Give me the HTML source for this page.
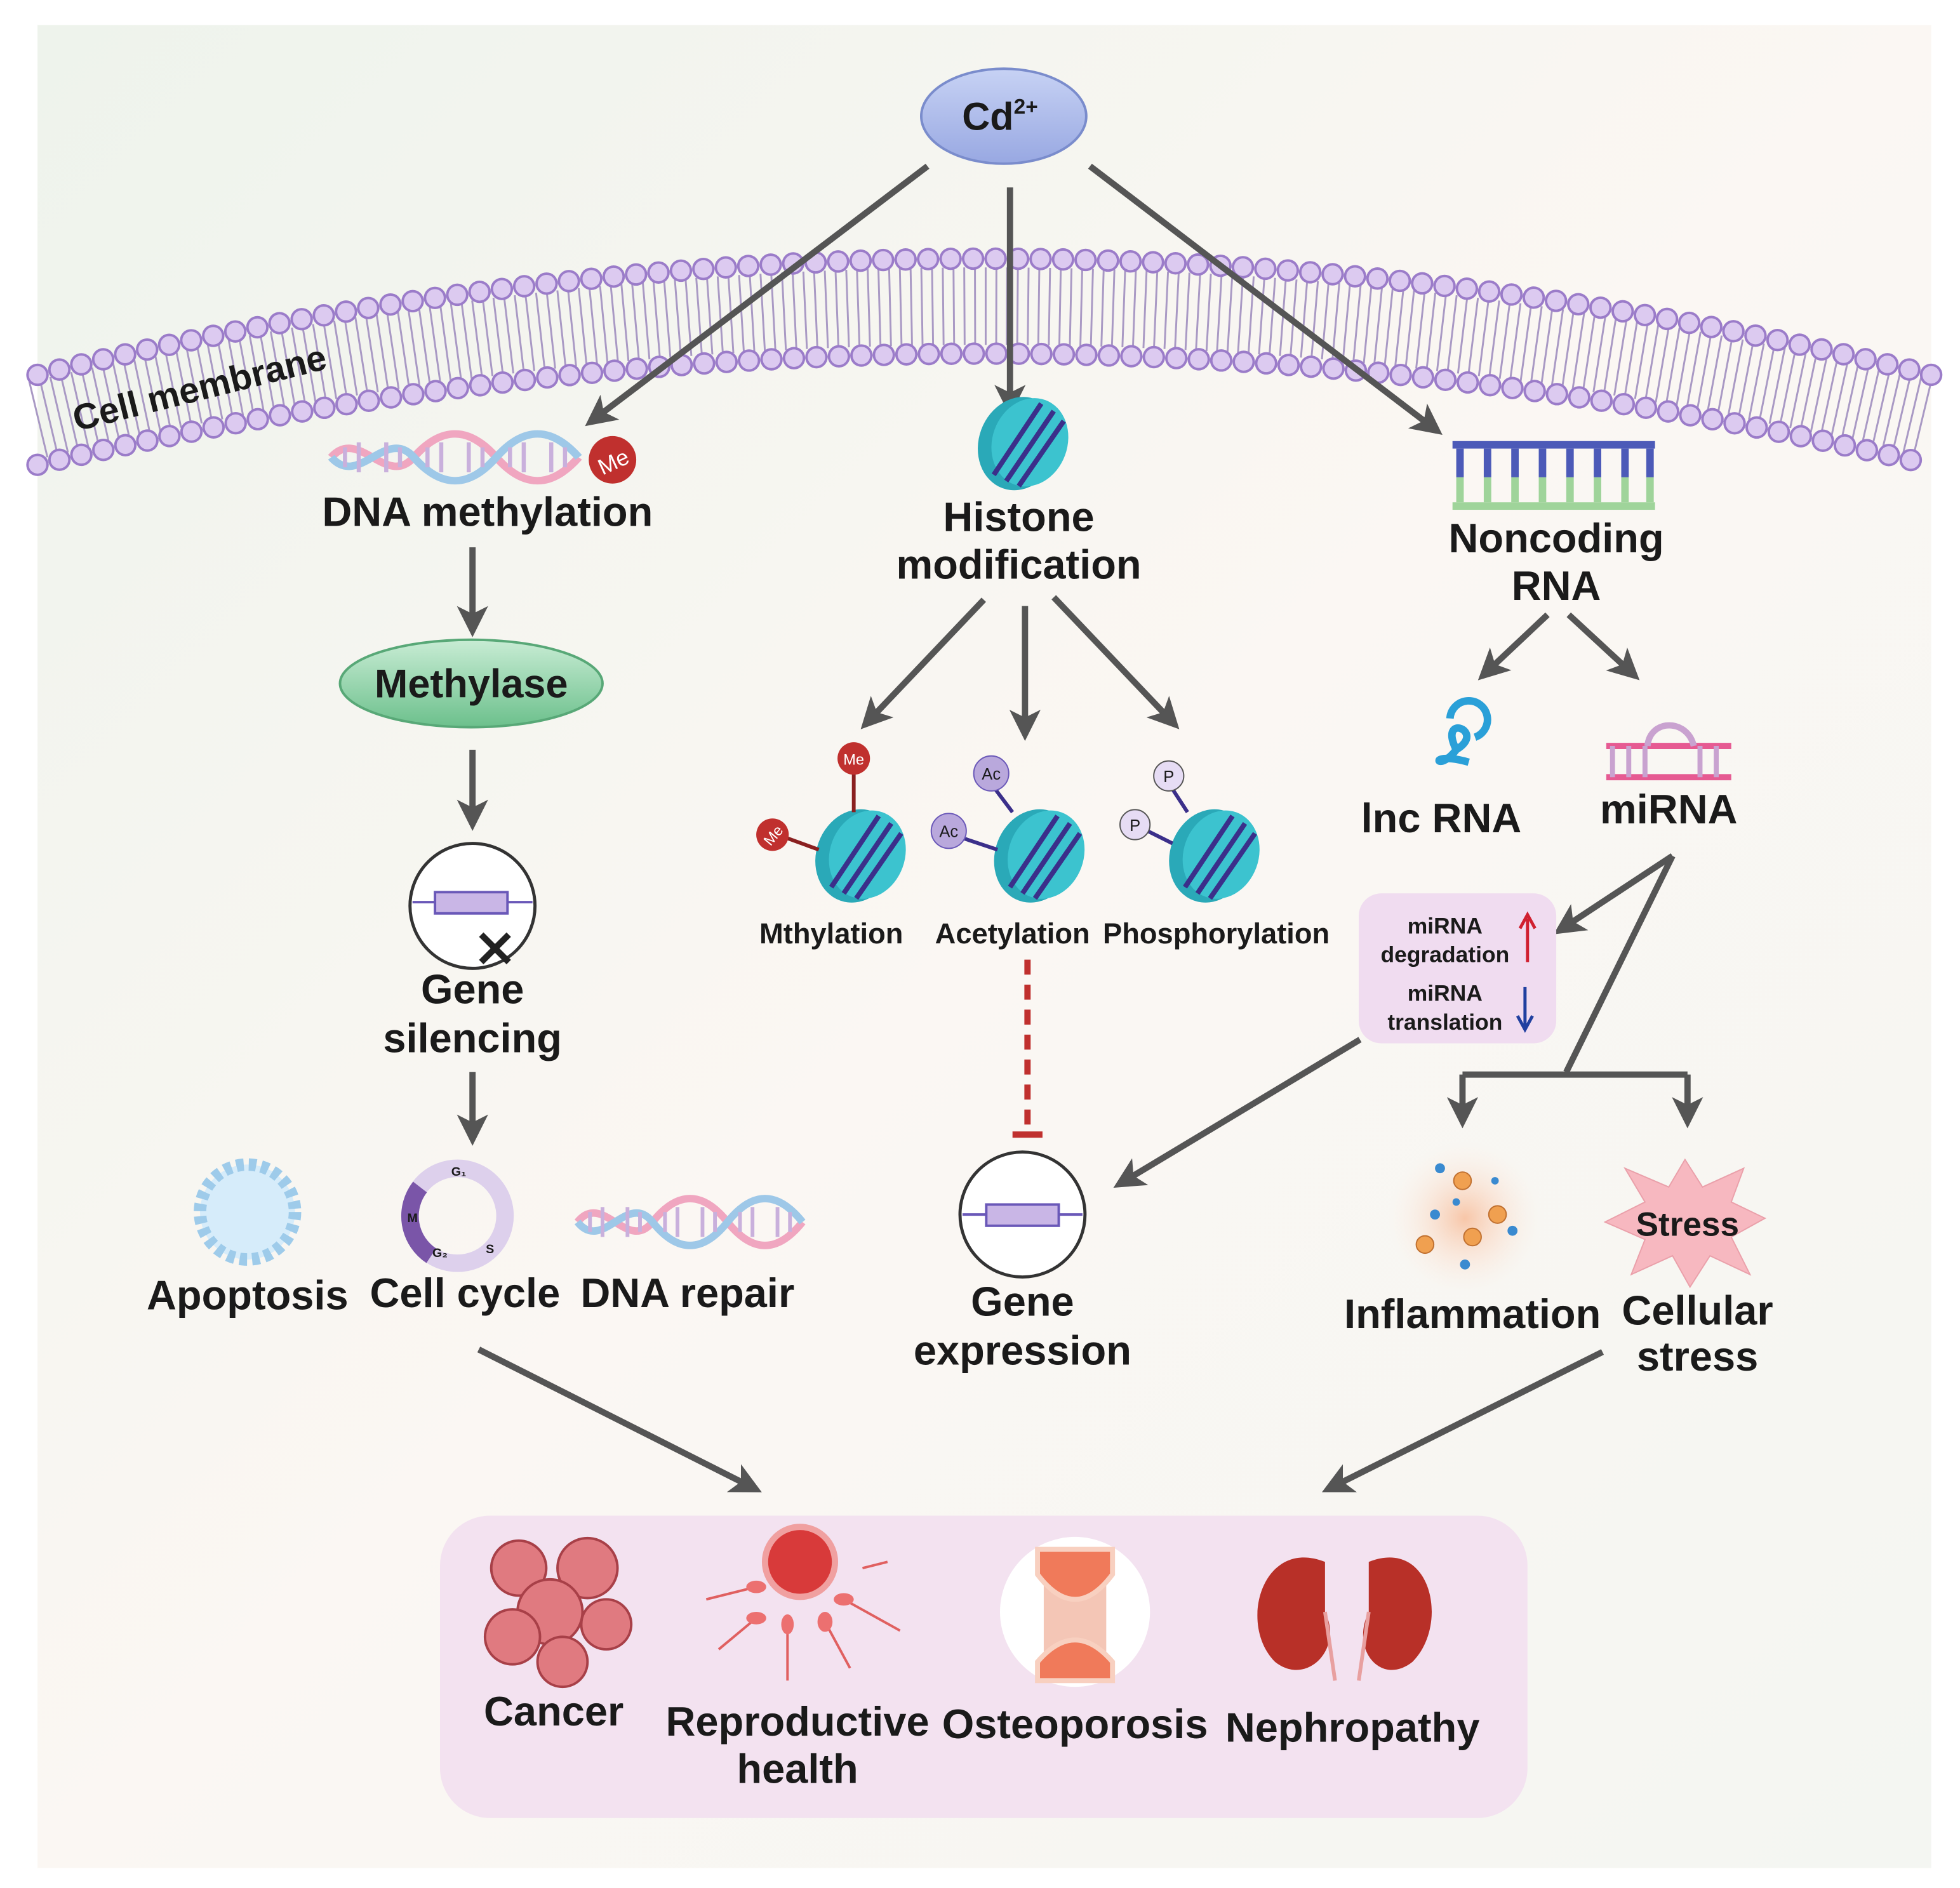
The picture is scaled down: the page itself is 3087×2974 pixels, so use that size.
<!DOCTYPE html>
<html><head><meta charset="utf-8"><style>
html,body{margin:0;padding:0;background:#fff}
svg{display:block}
text{font-family:"Liberation Sans",sans-serif;font-weight:bold;fill:#1a1a1a;text-anchor:middle}
</style></head><body>
<svg width="3087" height="2974" viewBox="0 0 1568 1511" preserveAspectRatio="none" xmlns="http://www.w3.org/2000/svg">
<defs>
<linearGradient id="bg" x1="0" y1="0" x2="1" y2="1">
<stop offset="0" stop-color="#eef3ec"/><stop offset="0.5" stop-color="#fbf7f3"/><stop offset="1" stop-color="#f4f6f2"/></linearGradient>
<marker id="ah" viewBox="0 0 10 10" refX="8" refY="5" markerWidth="5" markerHeight="5" orient="auto"><path d="M0,0 L10,5 L0,10 L2.5,5 z" fill="#555"/></marker>
<linearGradient id="gm" x1="0" y1="0" x2="0" y2="1"><stop offset="0" stop-color="#c8ecd4"/><stop offset="1" stop-color="#6cc08c"/></linearGradient>
<linearGradient id="gc" x1="0" y1="0" x2="0" y2="1"><stop offset="0" stop-color="#c7d2f4"/><stop offset="1" stop-color="#98a8e2"/></linearGradient>
<radialGradient id="gi"><stop offset="0" stop-color="#f8c6a8"/><stop offset="1" stop-color="#fbeee6" stop-opacity="0"/></radialGradient>
<g id="nuc"><ellipse cx="0" cy="0" rx="32" ry="38" fill="#2aa9b8" transform="rotate(20)"/><ellipse cx="8" cy="-4" rx="30" ry="36" fill="#3cc3cf" transform="rotate(20)"/><path d="M-20,25 L18,-32 M-10,30 L28,-26 M0,34 L36,-18" stroke="#3b2f8a" stroke-width="4" fill="none"/></g>
<g id="helix"><path d="M0,0 C20,-25 40,25 60,0 S100,-25 120,0 S160,25 180,0" stroke="#f0a6c0" stroke-width="6" fill="none"/><path d="M0,0 C20,25 40,-25 60,0 S100,25 120,0 S160,-25 180,0" stroke="#9ec8e8" stroke-width="6" fill="none"/><path d="M10,-8V8M20,-12V12M40,-12V12M50,-8V8M70,-8V8M80,-12V12M100,-12V12M110,-8V8M130,-8V8M140,-12V12M160,-12V12M170,-8V8" stroke="#c9b0dc" stroke-width="3"/></g>
</defs>
<rect width="1568" height="1511" fill="#fff"/>
<rect x="30" y="20" width="1515" height="1475" fill="url(#bg)"/>
<!-- membrane -->
<path d="M30,336 Q790,154 1545,336" stroke="#a999c4" stroke-width="62" stroke-dasharray="1.5 7" fill="none"/>
<path d="M30,300 Q790,114 1545,300" stroke="#9b7cc9" stroke-width="18" stroke-dasharray="0 18" stroke-linecap="round" fill="none"/>
<path d="M30,300 Q790,114 1545,300" stroke="#dccaf0" stroke-width="14" stroke-dasharray="0 18" stroke-linecap="round" fill="none"/>
<path d="M30,372 Q790,194 1545,372" stroke="#9b7cc9" stroke-width="18" stroke-dasharray="0 18" stroke-linecap="round" fill="none"/>
<path d="M30,372 Q790,194 1545,372" stroke="#dccaf0" stroke-width="14" stroke-dasharray="0 18" stroke-linecap="round" fill="none"/>
<text x="162" y="320" font-size="29" transform="rotate(-14 162 320)">Cell membrane</text>
<!-- Cd -->
<ellipse cx="803" cy="93" rx="66" ry="38" fill="url(#gc)" stroke="#7a8ccc" stroke-width="2"/>
<text x="800" y="104" font-size="31">Cd<tspan font-size="17" dy="-13">2+</tspan></text>
<g stroke="#555" stroke-width="5" fill="none" marker-end="url(#ah)">
<path d="M742,133 L472,338"/><path d="M808,150 L808,328"/><path d="M872,133 L1150,345"/>
<path d="M378,438 L378,505"/><path d="M378,600 L378,660"/><path d="M378,858 L378,912"/>
<path d="M787,480 L692,580"/><path d="M820,485 L820,588"/><path d="M843,478 L940,580"/>
<path d="M1238,492 L1186,541"/><path d="M1255,492 L1308,541"/>
<path d="M1338,685 L1247,745"/><path d="M1088,832 L895,948"/>
<path d="M1170,860 L1170,898"/><path d="M1350,860 L1350,898"/>
<path d="M383,1080 L605,1192"/><path d="M1282,1082 L1062,1192"/>
</g>
<path d="M1338,685 L1253,858 M1170,860 L1350,860" stroke="#555" stroke-width="5" fill="none"/>
<!-- DNA methylation -->
<use href="#helix" x="265" y="366" transform="translate(265 366) scale(1.1 1) translate(-265 -366)"/>
<circle cx="490" cy="368" r="19" fill="#c0302e"/><text x="490" y="376" font-size="18" style="fill:#fff;font-weight:normal" transform="rotate(-25 490 368)">Me</text>
<text x="390" y="421" font-size="33">DNA methylation</text>
<ellipse cx="377" cy="547" rx="105" ry="35" fill="url(#gm)" stroke="#58a877" stroke-width="2"/>
<text x="377" y="558" font-size="32">Methylase</text>
<circle cx="378" cy="725" r="50" fill="#fff" stroke="#333" stroke-width="2.5"/>
<path d="M330,722 H426" stroke="#6a58b8" stroke-width="2"/><rect x="348" y="714" width="58" height="17" fill="#c9b6e6" stroke="#6a58b8" stroke-width="2"/>
<path d="M385,748 L407,770 M407,748 L385,770" stroke="#222" stroke-width="5"/>
<text x="378" y="803" font-size="33">Gene</text><text x="378" y="842" font-size="33">silencing</text>
<!-- bottom-left -->
<circle cx="198" cy="970" r="38" fill="#d6ecfa" stroke="#9ecbea" stroke-width="10" stroke-dasharray="6 4"/>
<text x="198" y="1048" font-size="33">Apoptosis</text>
<circle cx="366" cy="973" r="38" fill="none" stroke="#ddd0ec" stroke-width="14"/>
<path d="M336,950 A38,38 0 0 0 345,1005" stroke="#7a55a8" stroke-width="14" fill="none"/>
<text x="330" y="978" font-size="10">M</text><text x="367" y="941" font-size="10">G₁</text><text x="392" y="1003" font-size="10">S</text><text x="352" y="1006" font-size="10">G₂</text>
<text x="372" y="1046" font-size="33">Cell cycle</text>
<use href="#helix" x="462" y="978"/>
<text x="550" y="1046" font-size="33">DNA repair</text>
<!-- histone -->
<use href="#nuc" x="815" y="355"/>
<text x="815" y="425" font-size="33">Histone</text><text x="815" y="463" font-size="33">modification</text>
<use href="#nuc" x="685" y="685"/><use href="#nuc" x="828" y="685"/><use href="#nuc" x="968" y="685"/>
<path d="M683,618 L683,650 M622,668 L655,680" stroke="#8a2020" stroke-width="3"/>
<circle cx="683" cy="607" r="13" fill="#c0302e"/><circle cx="618" cy="668" r="13" fill="#c0302e"/>
<text x="683" y="612" font-size="12" style="fill:#fff;font-weight:normal">Me</text>
<text x="618" y="673" font-size="12" style="fill:#fff;font-weight:normal" transform="rotate(-50 618 668)">Me</text>
<path d="M795,630 L810,650 M762,668 L798,680" stroke="#3b2f8a" stroke-width="3"/>
<circle cx="793" cy="619" r="14" fill="#b9a8dc" stroke="#6a58b8"/><circle cx="759" cy="665" r="14" fill="#b9a8dc" stroke="#6a58b8"/>
<text x="793" y="624" font-size="13" style="font-weight:normal">Ac</text><text x="759" y="670" font-size="13" style="font-weight:normal">Ac</text>
<path d="M937,630 L950,650 M912,662 L938,675" stroke="#3b2f8a" stroke-width="3"/>
<circle cx="935" cy="621" r="12" fill="#e6dcf4" stroke="#555"/><circle cx="908" cy="660" r="12" fill="#e6dcf4" stroke="#555"/>
<text x="935" y="626" font-size="13" style="font-weight:normal">P</text><text x="908" y="665" font-size="13" style="font-weight:normal">P</text>
<text x="665" y="755" font-size="23">Mthylation</text><text x="810" y="755" font-size="23">Acetylation</text><text x="973" y="755" font-size="23">Phosphorylation</text>
<path d="M822,768 L822,900" stroke="#c0302e" stroke-width="5" stroke-dasharray="12 8"/>
<path d="M810,908 H834" stroke="#c0302e" stroke-width="5"/>
<circle cx="818" cy="972" r="50" fill="#fff" stroke="#333" stroke-width="2.5"/>
<path d="M770,972 H866" stroke="#6a58b8" stroke-width="2"/><rect x="789" y="964" width="58" height="17" fill="#c9b6e6" stroke="#6a58b8" stroke-width="2"/>
<text x="818" y="1053" font-size="33">Gene</text><text x="818" y="1092" font-size="33">expression</text>
<!-- noncoding -->
<rect x="1162" y="353" width="162" height="6" fill="#4c5ab8"/>
<g stroke-width="6"><path d="M1168,359 V382 M1190,359 V382 M1212,359 V382 M1234,359 V382 M1256,359 V382 M1278,359 V382 M1300,359 V382 M1320,359 V382" stroke="#4c5ab8"/>
<path d="M1168,382 V402 M1190,382 V402 M1212,382 V402 M1234,382 V402 M1256,382 V402 M1278,382 V402 M1300,382 V402 M1320,382 V402" stroke="#9fd49a"/></g>
<rect x="1162" y="402" width="162" height="6" fill="#9fd49a"/>
<text x="1245" y="442" font-size="33">Noncoding</text><text x="1245" y="480" font-size="33">RNA</text>
<path d="M1175,610 C1140,600 1150,620 1165,600 C1190,585 1150,570 1165,600 M1160,575 A15,15 0 1 1 1180,590" stroke="#2aa0d8" stroke-width="6" fill="none"/>
<text x="1153" y="666" font-size="33">lnc RNA</text>
<path d="M1285,597 H1385 M1285,622 H1385" stroke="#e65a92" stroke-width="5"/>
<path d="M1290,597 V622 M1303,597 V622 M1316,597 V622 M1360,597 V622 M1373,597 V622" stroke="#c9a2d0" stroke-width="4"/>
<path d="M1318,597 C1320,575 1350,575 1355,597" stroke="#c9a2d0" stroke-width="5" fill="none"/>
<text x="1335" y="659" font-size="33">miRNA</text>
<rect x="1087" y="715" width="158" height="120" rx="18" fill="#f0dcf0"/>
<text x="1156" y="747" font-size="18">miRNA</text><text x="1156" y="770" font-size="18">degradation</text>
<text x="1156" y="801" font-size="18">miRNA</text><text x="1156" y="824" font-size="18">translation</text>
<path d="M1222,770 V735 M1216,743 L1222,732 L1228,743" stroke="#d02030" stroke-width="2.5" fill="none"/>
<path d="M1220,790 V822 M1214,813 L1220,824 L1226,813" stroke="#2040a0" stroke-width="2.5" fill="none"/>
<circle cx="1172" cy="975" r="62" fill="url(#gi)"/>
<g fill="#f0a050" stroke="#c07030"><circle cx="1170" cy="945" r="7"/><circle cx="1198" cy="972" r="7"/><circle cx="1178" cy="990" r="7"/><circle cx="1140" cy="996" r="7"/></g>
<g fill="#3a8ad0"><circle cx="1152" cy="935" r="4"/><circle cx="1148" cy="972" r="4"/><circle cx="1210" cy="985" r="4"/><circle cx="1172" cy="1012" r="4"/><circle cx="1196" cy="945" r="3"/><circle cx="1165" cy="962" r="3"/></g>
<text x="1178" y="1063" font-size="33">Inflammation</text>
<path d="M1348,928 L1362,950 L1395,935 L1385,962 L1412,975 L1385,990 L1400,1020 L1368,1005 L1352,1030 L1338,1005 L1305,1020 L1316,992 L1284,978 L1316,962 L1300,935 L1335,950 Z" fill="#f7b8c0" stroke="#eaa0aa"/>
<text x="1350" y="989" font-size="27">Stress</text>
<text x="1358" y="1060" font-size="33">Cellular</text><text x="1358" y="1097" font-size="33">stress</text>
<!-- outcomes -->
<rect x="352" y="1213" width="870" height="242" rx="40" fill="#f3e2f0"/>
<g fill="#e07a80" stroke="#a84048" stroke-width="2"><circle cx="415" cy="1255" r="22"/><circle cx="470" cy="1255" r="24"/><circle cx="440" cy="1290" r="26"/><circle cx="485" cy="1300" r="20"/><circle cx="410" cy="1310" r="22"/><circle cx="450" cy="1330" r="20"/></g>
<text x="443" y="1381" font-size="33">Cancer</text>
<circle cx="640" cy="1250" r="28" fill="#d83a3a" stroke="#f0a0a0" stroke-width="5"/>
<g stroke="#e06060" stroke-width="2"><path d="M565,1280 L605,1270 M575,1320 L605,1295 M630,1345 L630,1300 M680,1335 L660,1298 M720,1305 L675,1280 M690,1255 L710,1250"/></g>
<g fill="#ec7070"><ellipse cx="605" cy="1270" rx="8" ry="5"/><ellipse cx="605" cy="1295" rx="8" ry="5"/><ellipse cx="630" cy="1300" rx="5" ry="8"/><ellipse cx="660" cy="1298" rx="6" ry="8"/><ellipse cx="675" cy="1280" rx="8" ry="5"/></g>
<text x="638" y="1389" font-size="33">Reproductive</text><text x="638" y="1427" font-size="33">health</text>
<circle cx="860" cy="1290" r="60" fill="#fff"/>
<rect x="835" y="1240" width="50" height="100" fill="#f4c6b6"/>
<path d="M830,1260 Q860,1300 890,1260 V1240 H830 Z M830,1330 Q860,1295 890,1330 V1345 H830 Z" fill="#f07a5a" stroke="#f8d0c0" stroke-width="4"/>
<text x="860" y="1391" font-size="33">Osteoporosis</text>
<path d="M1060,1250 C1010,1230 990,1300 1020,1330 C1045,1350 1075,1320 1060,1290 Z" fill="#b83028"/>
<path d="M1095,1250 C1145,1230 1160,1300 1130,1330 C1105,1350 1080,1320 1095,1290 Z" fill="#b83028"/>
<path d="M1060,1290 L1068,1345 M1095,1290 L1087,1345" stroke="#e8a0a0" stroke-width="3"/>
<text x="1082" y="1394" font-size="33">Nephropathy</text>
</svg>
</body></html>
